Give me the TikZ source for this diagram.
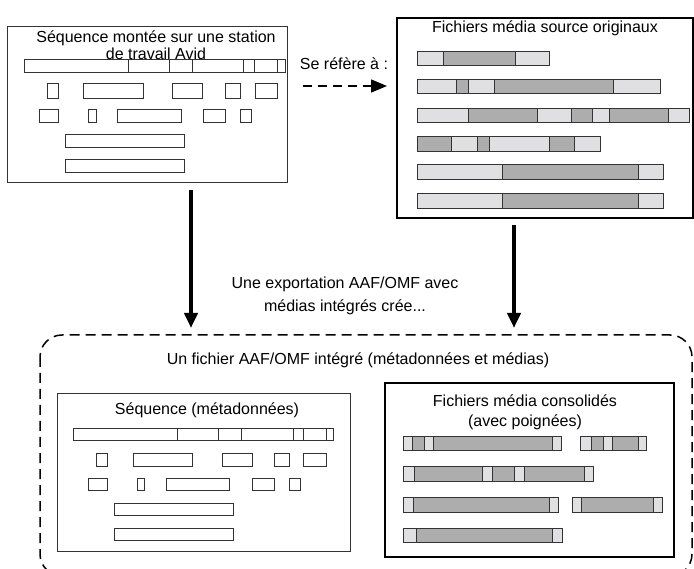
\documentclass[tikz,border=0pt]{standalone}
\usepackage{fontspec}
\setmainfont{Liberation Sans}
\usetikzlibrary{arrows.meta}
\definecolor{segdark}{HTML}{ADADAD}
\definecolor{seglight}{HTML}{E0E0E2}
\definecolor{rim}{HTML}{333333}

\begin{document}
\begin{tikzpicture}[x=1pt,y=-1pt,
  every node/.style={font=\fontsize{16}{16.5}\selectfont, align=center, inner sep=0pt},
  thinbox/.style={draw=rim, line width=1pt},
  thickbox/.style={draw=black, line width=2.2pt},
  bar/.style={draw=rim, line width=0.9pt},
  darkseg/.style={bar, fill=segdark},
  liteseg/.style={bar, fill=seglight},
  bigarrow/.style={line width=4pt, -{Triangle[length=15pt,width=13pt]}},
  refarrow/.style={line width=1.5pt, dash pattern=on 9pt off 6pt, -{Triangle[length=16pt,width=13pt]}}]
\useasboundingbox (0,0) rectangle (694,569);

% the four boxes
\node[thinbox, minimum width=280pt, minimum height=156pt] (seq) at (147,105) {};
\node[thickbox, minimum width=296pt, minimum height=200pt] (src) at (545,118) {};
\node[thinbox, minimum width=293pt, minimum height=157pt] (meta) at (203.5,472.5) {};
\node[thickbox, minimum width=289pt, minimum height=174pt] (cons) at (529.5,470) {};
\draw[line width=1.5pt, dash pattern=on 10pt off 6pt, rounded corners=22pt] (40,335) rectangle (692,576);

% titles
\node (seqtitle) at (156,45) {Séquence montée sur une station\\de travail Avid};
\node (srctitle) at (545,28) {Fichiers média source originaux};
\node (aaftitle) at (358,360) {Un fichier AAF/OMF intégré (métadonnées et médias)};
\node (metatitle) at (207,410) {Séquence (métadonnées)};
\node[font=\fontsize{16}{20}\selectfont] (constitle) at (525,412) {Fichiers média consolidés\\(avec poignées)};
\node (reflabel) at (344,64) {Se réfère à :};
\node[font=\fontsize{16}{23}\selectfont] (explabel) at (345,296) {Une exportation AAF/OMF avec\\médias intégrés crée...};

% arrows
\coordinate (refA) at (303,86);
\coordinate (refB) at (387,86);
\coordinate (srcL) at (191,190);
\coordinate (dstL) at (191,328);
\coordinate (srcR) at (514,225);
\coordinate (dstR) at (514,328);
\draw[refarrow] (refA) -- (refB);
\draw[bigarrow] (srcL) -- (dstL);
\draw[bigarrow] (srcR) -- (dstR);

% sequence in the Avid box
\foreach \xa/\xb in {24/128,128/169,169/192,192/243,243/254,254/277,277/285}
  \draw[bar] (\xa,59) rectangle (\xb,72);
\foreach \xa/\xb in {47/58,83/143,172/202,225/240,255/277}
  \draw[bar] (\xa,83) rectangle (\xb,98);
\foreach \xa/\xb in {39/58,88/96,117/181,203/225,240/251}
  \draw[bar] (\xa,109) rectangle (\xb,122);
\draw[bar] (65,134) rectangle (184,147);
\draw[bar] (65,159) rectangle (184,172);

% original source media
\foreach \xa/\xb/\s in {417/443/liteseg,443/515/darkseg,515/549/liteseg}
  \draw[\s] (\xa,51) rectangle (\xb,65);
\foreach \xa/\xb/\s in {417/456/liteseg,456/468/darkseg,468/494/liteseg,494/613/darkseg,613/660/liteseg}
  \draw[\s] (\xa,79) rectangle (\xb,93);
\foreach \xa/\xb/\s in {417/468/liteseg,468/537/darkseg,537/571/liteseg,571/592/darkseg,592/609/liteseg,609/668/darkseg,668/689/liteseg}
  \draw[\s] (\xa,108) rectangle (\xb,122);
\foreach \xa/\xb/\s in {417/451/darkseg,451/477/liteseg,477/489/darkseg,489/549/liteseg,549/574/darkseg,574/600/liteseg}
  \draw[\s] (\xa,136) rectangle (\xb,151);
\foreach \yy in {164,193}
  \foreach \xa/\xb/\s in {417/502/liteseg,502/638/darkseg,638/663/liteseg}
    \draw[\s] (\xa,\yy) rectangle (\xb,\yy+15);

% sequence metadata
\foreach \xa/\xb in {73/177,177/218,218/241,241/293,293/303,303/326,326/333}
  \draw[bar] (\xa,428) rectangle (\xb,440);
\foreach \xa/\xb in {96/107,133/192,222/252,274/289,303/326}
  \draw[bar] (\xa,453) rectangle (\xb,466);
\foreach \xa/\xb in {88/107,137/144,166/229,252/274,289/300}
  \draw[bar] (\xa,478) rectangle (\xb,490);
\draw[bar] (114,503) rectangle (233,515);
\draw[bar] (114,528) rectangle (233,540);

% consolidated media with handles
\foreach \xa/\xb/\s in {403/412/liteseg,412/424/darkseg,424/433/liteseg,433/552/darkseg,552/561/liteseg,
    580/591/liteseg,591/603/darkseg,603/612/liteseg,612/638/darkseg,638/646/liteseg}
  \draw[\s] (\xa,436) rectangle (\xb,450);
\foreach \xa/\xb/\s in {403/414/liteseg,414/482/darkseg,482/492/liteseg,492/514/darkseg,514/524/liteseg,524/584/darkseg,584/593/liteseg}
  \draw[\s] (\xa,466) rectangle (\xb,481);
\foreach \xa/\xb/\s in {403/413/liteseg,413/549/darkseg,549/558/liteseg,572/581/liteseg,581/653/darkseg,653/662/liteseg}
  \draw[\s] (\xa,497) rectangle (\xb,512);
\foreach \xa/\xb/\s in {403/416/liteseg,416/552/darkseg,552/562/liteseg}
  \draw[\s] (\xa,528) rectangle (\xb,542);
\end{tikzpicture}
\end{document}
